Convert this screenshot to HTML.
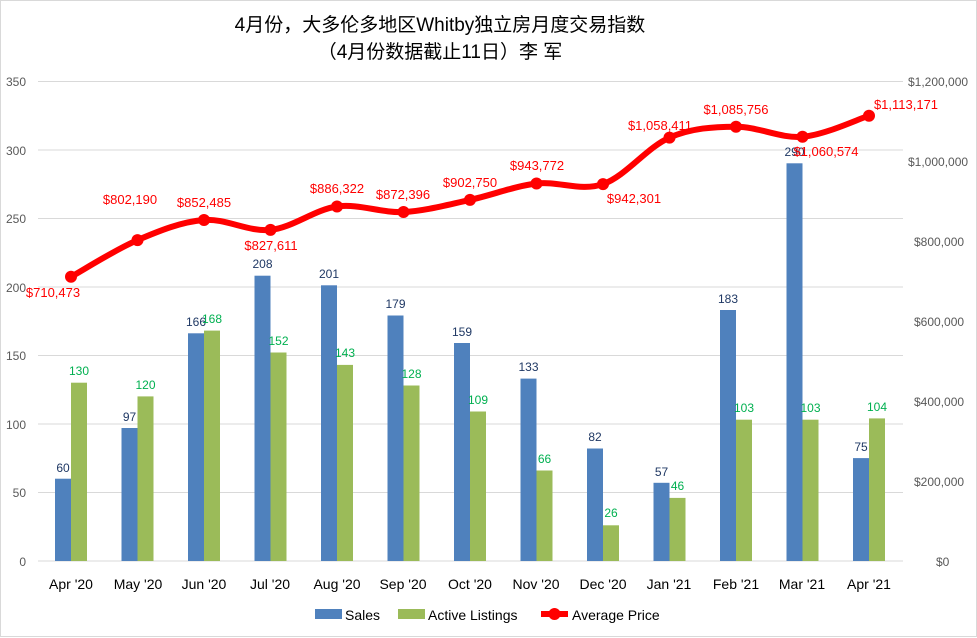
<!DOCTYPE html>
<html><head><meta charset="utf-8"><style>
body{margin:0;background:#fff}
svg{display:block;font-family:"Liberation Sans","Noto Sans CJK SC",sans-serif}
</style></head><body>
<svg width="977" height="638" viewBox="0 0 977 638">
<rect x="0.5" y="0.5" width="976" height="636" fill="#fff" stroke="#d9d9d9"/>
<text x="440" y="31" font-size="19" text-anchor="middle" fill="#000">4月份，大多伦多地区Whitby独立房月度交易指数</text>
<text x="440" y="58" font-size="19" text-anchor="middle" fill="#000">（4月份数据截止11日）李 军</text>
<g stroke="#d9d9d9" stroke-width="1">
<line x1="38" x2="903" y1="81.5" y2="81.5"/><line x1="38" x2="903" y1="150" y2="150"/><line x1="38" x2="903" y1="218.5" y2="218.5"/><line x1="38" x2="903" y1="287" y2="287"/><line x1="38" x2="903" y1="355.5" y2="355.5"/><line x1="38" x2="903" y1="424" y2="424"/><line x1="38" x2="903" y1="492.5" y2="492.5"/><line x1="38" x2="903" y1="561" y2="561"/>
</g>
<g font-size="12" fill="#595959" text-anchor="end">
<text x="26" y="86">350</text><text x="26" y="155">300</text><text x="26" y="223">250</text><text x="26" y="292">200</text><text x="26" y="360">150</text><text x="26" y="429">100</text><text x="26" y="497">50</text><text x="26" y="566">0</text>
</g>
<g font-size="12" fill="#595959">
<text x="908" y="86">$1,200,000</text><text x="908" y="166">$1,000,000</text><text x="914" y="246">$800,000</text><text x="914" y="326">$600,000</text><text x="914" y="406">$400,000</text><text x="914" y="486">$200,000</text><text x="936" y="566">$0</text>
</g>
<g fill="#4f81bd">
<rect x="55" y="478.7" width="16" height="82.3"/><rect x="121.5" y="428" width="16" height="133"/><rect x="188" y="333.3" width="16" height="227.7"/><rect x="254.5" y="275.7" width="16" height="285.3"/><rect x="321" y="285.3" width="16" height="275.7"/><rect x="387.5" y="315.5" width="16" height="245.5"/><rect x="454" y="343" width="16" height="218"/><rect x="520.5" y="378.6" width="16" height="182.4"/><rect x="587" y="448.5" width="16" height="112.5"/><rect x="653.5" y="482.8" width="16" height="78.2"/><rect x="720" y="310" width="16" height="251"/><rect x="786.5" y="163.3" width="16" height="397.7"/><rect x="853" y="458.1" width="16" height="102.9"/>
</g>
<g fill="#9bbb59">
<rect x="71" y="382.7" width="16" height="178.3"/><rect x="137.5" y="396.4" width="16" height="164.6"/><rect x="204" y="330.6" width="16" height="230.4"/><rect x="270.5" y="352.5" width="16" height="208.5"/><rect x="337" y="364.9" width="16" height="196.1"/><rect x="403.5" y="385.5" width="16" height="175.5"/><rect x="470" y="411.5" width="16" height="149.5"/><rect x="536.5" y="470.5" width="16" height="90.5"/><rect x="603" y="525.3" width="16" height="35.7"/><rect x="669.5" y="497.9" width="16" height="63.1"/><rect x="736" y="419.7" width="16" height="141.3"/><rect x="802.5" y="419.7" width="16" height="141.3"/><rect x="869" y="418.4" width="16" height="142.6"/>
</g>
<g font-size="12" fill="#1f3864" text-anchor="middle">
<text x="63" y="472">60</text><text x="129.5" y="421">97</text><text x="196" y="326">166</text><text x="262.5" y="268">208</text><text x="329" y="278">201</text><text x="395.5" y="308">179</text><text x="462" y="336">159</text><text x="528.5" y="371">133</text><text x="595" y="441">82</text><text x="661.5" y="476">57</text><text x="728" y="303">183</text><text x="794.5" y="156">290</text><text x="861" y="451">75</text>
</g>
<g font-size="12" fill="#00b050" text-anchor="middle">
<text x="79" y="375">130</text><text x="145.5" y="389">120</text><text x="212" y="323">168</text><text x="278.5" y="345">152</text><text x="345" y="357">143</text><text x="411.5" y="378">128</text><text x="478" y="404">109</text><text x="544.5" y="463">66</text><text x="611" y="517">26</text><text x="677.5" y="490">46</text><text x="744" y="412">103</text><text x="810.5" y="412">103</text><text x="877" y="411">104</text>
</g>
<path fill="none" stroke="#ff0000" stroke-width="6" stroke-linejoin="round" stroke-linecap="round"
d="M71,276.8 C82.1,270.7 115.3,249.6 137.5,240.1 C159.7,230.6 181.8,221.7 204,220 C226.2,218.3 248.3,232.15 270.5,229.9 C292.7,227.65 314.8,209.5 337,206.5 C359.2,203.5 381.3,213.1 403.5,212 C425.7,210.9 447.8,204.65 470,199.9 C492.2,195.15 514.3,186.1 536.5,183.5 C558.7,180.9 580.8,191.75 603,184.1 C625.2,176.45 647.3,147.2 669.5,137.6 C691.7,128 713.8,126.8 736,126.7 C758.2,126.6 780.3,138.6 802.5,136.8 C824.7,135 857.9,119.2 869,115.7"/>
<g fill="#ff0000">
<circle cx="71" cy="276.8" r="6"/><circle cx="137.5" cy="240.1" r="6"/><circle cx="204" cy="220" r="6"/><circle cx="270.5" cy="229.9" r="6"/><circle cx="337" cy="206.5" r="6"/><circle cx="403.5" cy="212" r="6"/><circle cx="470" cy="199.9" r="6"/><circle cx="536.5" cy="183.5" r="6"/><circle cx="603" cy="184.1" r="6"/><circle cx="669.5" cy="137.6" r="6"/><circle cx="736" cy="126.7" r="6"/><circle cx="802.5" cy="136.8" r="6"/><circle cx="869" cy="115.7" r="6"/>
</g>
<g font-size="13" fill="#ff0000" text-anchor="middle">
<text x="53" y="297">$710,473</text><text x="130" y="204">$802,190</text><text x="204" y="207">$852,485</text><text x="271" y="250">$827,611</text><text x="337" y="193">$886,322</text><text x="403" y="199">$872,396</text><text x="470" y="187">$902,750</text><text x="537" y="170">$943,772</text><text x="634" y="203">$942,301</text><text x="660" y="130">$1,058,411</text><text x="736" y="114">$1,085,756</text><text x="826" y="156">$1,060,574</text><text x="906" y="109">$1,113,171</text>
</g>
<g font-size="14" fill="#000" text-anchor="middle">
<text x="71" y="589">Apr '20</text><text x="138" y="589">May '20</text><text x="204" y="589">Jun '20</text><text x="270" y="589">Jul '20</text><text x="337" y="589">Aug '20</text><text x="403" y="589">Sep '20</text><text x="470" y="589">Oct '20</text><text x="536" y="589">Nov '20</text><text x="603" y="589">Dec '20</text><text x="669" y="589">Jan '21</text><text x="736" y="589">Feb '21</text><text x="802" y="589">Mar '21</text><text x="869" y="589">Apr '21</text>
</g>
<rect x="315" y="609" width="27" height="10" fill="#4f81bd"/>
<text x="345" y="620" font-size="14" fill="#000">Sales</text>
<rect x="398" y="609" width="27" height="10" fill="#9bbb59"/>
<text x="428" y="620" font-size="14" fill="#000">Active Listings</text>
<line x1="541" x2="568" y1="614" y2="614" stroke="#ff0000" stroke-width="6"/>
<circle cx="554.5" cy="614" r="6" fill="#ff0000"/>
<text x="572" y="620" font-size="14" fill="#000">Average Price</text>
</svg>
</body></html>
